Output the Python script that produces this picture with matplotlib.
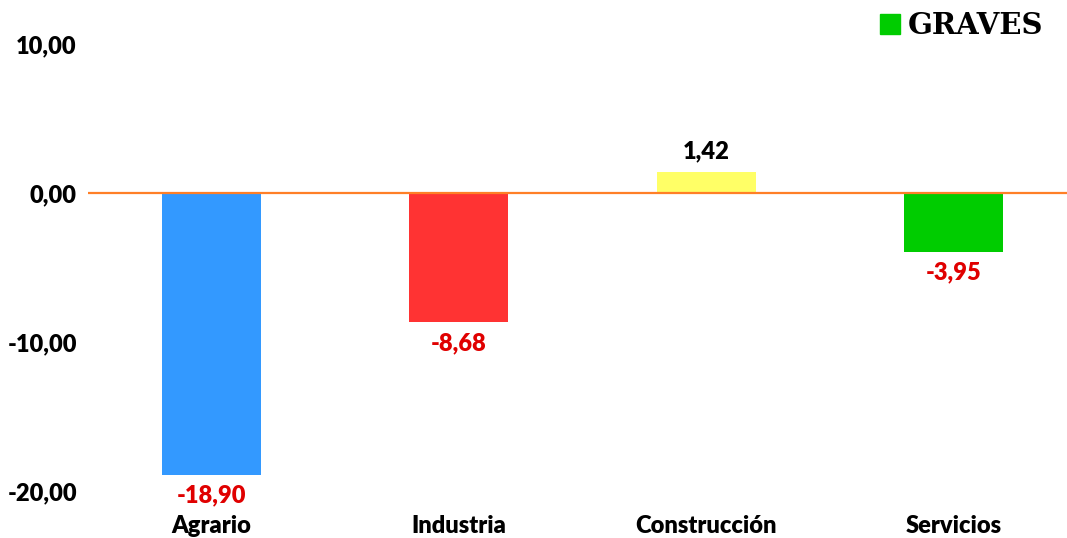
import matplotlib.pyplot as plt
from matplotlib.lines import Line2D

# Data
categories = ["Agrario", "Industria", "Construcción", "Servicios"]
values = [-18.90, -8.68, 1.42, -3.95]
bar_colors = ["#3399FF", "#FF3333", "#FFFF66", "#00CC00"]
label_colors = ["#E00000", "#E00000", "#000000", "#E00000"]
yticks = [-20, -10, 0, 10]
legend_label = "GRAVES"

fig = plt.figure(figsize=(10.67, 5.38), dpi=100)
ax = fig.add_axes([88 / 1067, 47 / 538, 1 - 88 / 1067, 447 / 538])

x = range(len(categories))
ax.bar(x, values, width=0.4, color=bar_colors, zorder=2)
ax.axhline(0, color="#FF7F27", linewidth=1.6, zorder=3)

# value labels
for i, v in enumerate(values):
    txt = f"{v:.2f}".replace(".", ",")
    off = 1.4 if v > 0 else -1.4
    ax.text(i, v + off, txt, ha="center", va="center", fontsize=17,
            fontweight="heavy", family="Lato", color=label_colors[i])

ax.set_ylim(-20, 10)
ax.set_xlim(-0.5, 3.46)
ax.set_yticks(yticks)
ax.set_yticklabels([f"{t:.2f}".replace(".", ",") for t in yticks],
                   fontsize=17, fontweight="heavy", family="Lato")
ax.set_xticks(list(x))
ax.set_xticklabels(categories, fontsize=17, fontweight="heavy", family="Lato")
ax.tick_params(axis="y", length=0, pad=8)
ax.tick_params(axis="x", length=0, pad=17)
for s in ax.spines.values():
    s.set_visible(False)

# legend
handle = Line2D([], [], marker="s", linestyle="none", markersize=14,
                markerfacecolor="#00CC00", markeredgecolor="#00CC00")
fig.legend([handle], [legend_label], loc="upper right",
           bbox_to_anchor=(1.002, 1.028), frameon=False, handletextpad=0.15,
           handlelength=0.9,
           prop={"family": "DejaVu Serif", "weight": "bold", "size": 21})

plt.savefig("out.png", dpi=100)
